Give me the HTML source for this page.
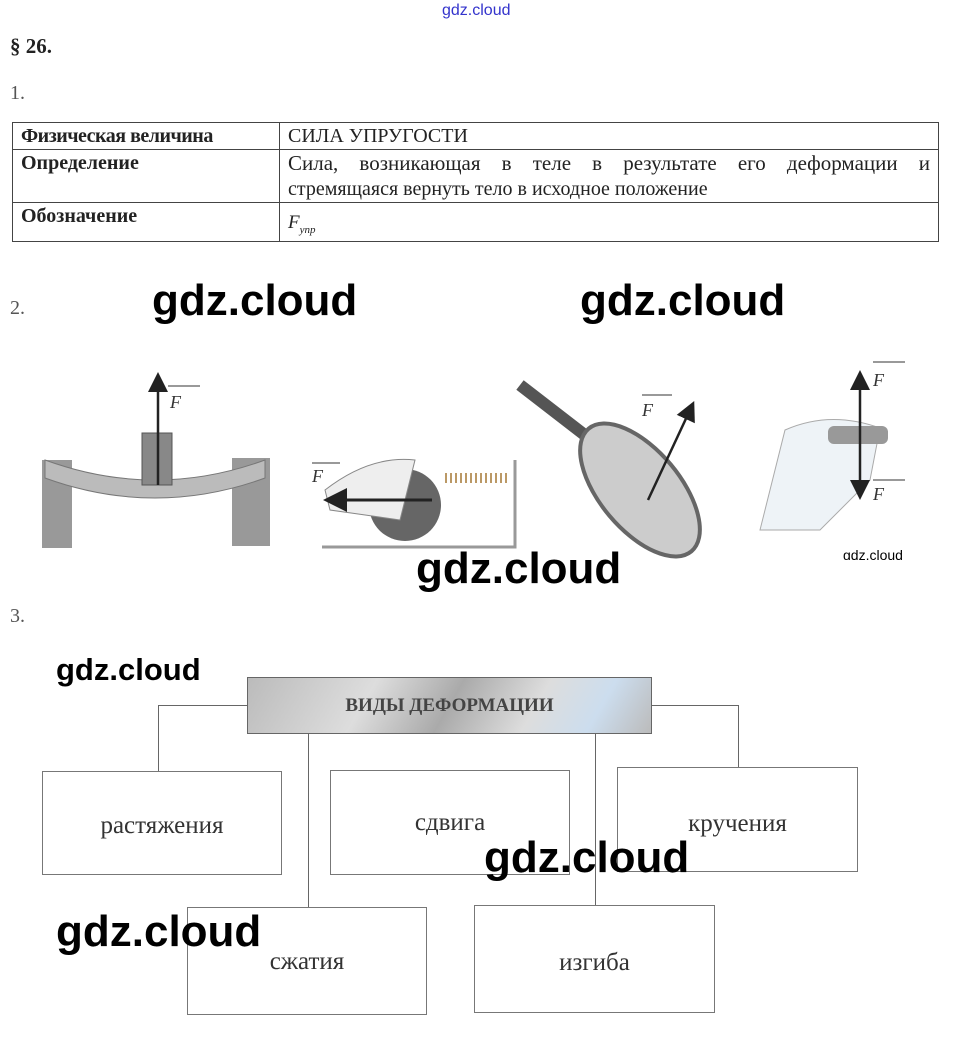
<!DOCTYPE html>
<html><head><meta charset="utf-8"><style>
body{margin:0;width:960px;height:1046px;background:#fff;position:relative;overflow:hidden;font-family:"Liberation Serif",serif;color:#222}
.a{position:absolute;white-space:nowrap}
.wm{position:absolute;font-family:"Liberation Sans",sans-serif;font-weight:bold;font-size:44px;color:#000;line-height:50px}
table{position:absolute;left:12px;top:122px;width:927px;border-collapse:collapse;font-size:20px}
td{border:1px solid #444;padding:0 8px;vertical-align:top;line-height:26px}
.box{position:absolute;border:1px solid #777;background:#fff;font-size:25px;color:#333;box-sizing:border-box}
.box span{position:absolute;left:0;right:0;text-align:center}
.ln{position:absolute;background:#666}
</style></head><body>
<div class="a" style="left:442px;top:2px;font-family:'Liberation Sans',sans-serif;font-size:16px;color:#33c">gdz.cloud</div>
<div class="a" style="left:10px;top:34px;font-size:21px;font-weight:bold">§ 26.</div>
<div class="a" style="left:10px;top:82px;font-size:20px;color:#555">1.</div>
<table>
<tr><td style="width:250px;font-weight:bold;letter-spacing:-0.5px">Физическая величина</td><td>СИЛА УПРУГОСТИ</td></tr>
<tr><td style="font-weight:bold;height:52px">Определение</td><td><span style="display:block;text-align:justify;text-align-last:justify;font-size:21px">Сила, возникающая в теле в результате его деформации и</span><span>стремящаяся вернуть тело в исходное положение</span></td></tr>
<tr><td style="font-weight:bold;height:38px">Обозначение</td><td><i style="font-size:19px;position:relative;top:6px">F<sub style="font-size:11px">упр</sub></i></td></tr>
</table>
<div class="a" style="left:10px;top:297px;font-size:20px;color:#555">2.</div>
<div class="wm" style="left:152px;top:276px">gdz.cloud</div>
<div class="wm" style="left:580px;top:276px">gdz.cloud</div>
<svg class="a" style="left:0;top:360px" width="960" height="200">
<defs><marker id="ar" markerWidth="8" markerHeight="8" refX="4" refY="4" orient="auto"><path d="M0,0L8,4L0,8z" fill="#222"/></marker></defs>
<rect x="42" y="100" width="30" height="88" fill="#999"/><rect x="232" y="98" width="38" height="88" fill="#999"/>
<path d="M45,100 Q155,140 265,100 L265,118 Q155,158 45,118z" fill="#bbb" stroke="#777"/>
<rect x="142" y="73" width="30" height="52" fill="#888" stroke="#555"/>
<line x1="158" y1="125" x2="158" y2="22" stroke="#222" stroke-width="2.5" marker-end="url(#ar)"/>
<text x="170" y="48" font-style="italic" font-size="18" fill="#333">F</text><line x1="168" y1="26" x2="200" y2="26" stroke="#333"/>
<circle cx="405" cy="145" r="36" fill="#666"/>
<path d="M325,130 Q370,95 415,100 L400,160 L330,150z" fill="#eee" stroke="#888"/>
<path d="M445,118 L510,118" stroke="#b96" stroke-width="10" stroke-dasharray="2,3"/>
<path d="M515,100 L515,187 L322,187" stroke="#999" stroke-width="3" fill="none"/>
<line x1="432" y1="140" x2="335" y2="140" stroke="#222" stroke-width="3" marker-end="url(#ar)"/>
<text x="312" y="122" font-style="italic" font-size="18" fill="#333">F</text><line x1="312" y1="103" x2="340" y2="103" stroke="#333"/>
<line x1="520" y1="25" x2="630" y2="110" stroke="#555" stroke-width="12"/>
<ellipse cx="640" cy="130" rx="40" ry="80" transform="rotate(-40 640 130)" fill="#ccc" stroke="#666" stroke-width="4"/>
<line x1="648" y1="140" x2="690" y2="50" stroke="#222" stroke-width="2.5" marker-end="url(#ar)"/>
<text x="642" y="56" font-style="italic" font-size="18" fill="#333">F</text><line x1="642" y1="35" x2="672" y2="35" stroke="#333"/>
<path d="M785,70 Q830,50 880,68 L870,120 L820,170 L760,170z" fill="#eef3f7" stroke="#aaa"/>
<rect x="828" y="66" width="60" height="18" fill="#999" rx="6"/>
<line x1="860" y1="75" x2="860" y2="20" stroke="#222" stroke-width="2.5" marker-end="url(#ar)"/>
<line x1="860" y1="75" x2="860" y2="130" stroke="#222" stroke-width="2.5" marker-end="url(#ar)"/>
<text x="873" y="26" font-style="italic" font-size="18" fill="#333">F</text><line x1="873" y1="2" x2="905" y2="2" stroke="#333"/>
<text x="873" y="140" font-style="italic" font-size="18" fill="#333">F</text><line x1="873" y1="120" x2="905" y2="120" stroke="#333"/>
<text x="843" y="200" font-family="Liberation Sans" font-size="14" fill="#000">gdz.cloud</text>
</svg>
<div class="wm" style="left:416px;top:544px">gdz.cloud</div>
<div class="a" style="left:10px;top:605px;font-size:20px;color:#555">3.</div>
<div class="wm" style="left:56px;top:652px;font-size:31px;line-height:36px">gdz.cloud</div>
<div class="ln" style="left:158px;top:705px;width:90px;height:1px"></div>
<div class="ln" style="left:158px;top:705px;width:1px;height:66px"></div>
<div class="ln" style="left:651px;top:705px;width:88px;height:1px"></div>
<div class="ln" style="left:738px;top:705px;width:1px;height:62px"></div>
<div class="ln" style="left:308px;top:733px;width:1px;height:174px"></div>
<div class="ln" style="left:595px;top:733px;width:1px;height:172px"></div>
<div class="a" style="left:247px;top:677px;width:403px;height:55px;border:1px solid #666;background:linear-gradient(120deg,#bbb,#ddd 30%,#aaa 50%,#ddd 70%,#cde 85%,#bbb);font-weight:bold;font-size:19px;color:#444;display:flex;align-items:center;justify-content:center">ВИДЫ ДЕФОРМАЦИИ</div>
<div class="box" style="left:42px;top:771px;width:240px;height:104px"><span style="top:40px">растяжения</span></div>
<div class="box" style="left:330px;top:770px;width:240px;height:105px"><span style="top:38px">сдвига</span></div>
<div class="box" style="left:617px;top:767px;width:241px;height:105px"><span style="top:42px">кручения</span></div>
<div class="box" style="left:187px;top:907px;width:240px;height:108px"><span style="top:40px">сжатия</span></div>
<div class="box" style="left:474px;top:905px;width:241px;height:108px"><span style="top:43px">изгиба</span></div>
<div class="wm" style="left:484px;top:833px">gdz.cloud</div>
<div class="wm" style="left:56px;top:907px">gdz.cloud</div>
</body></html>
